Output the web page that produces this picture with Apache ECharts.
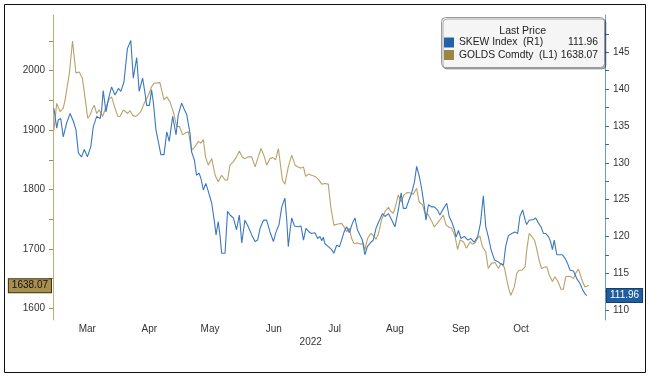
<!DOCTYPE html>
<html><head><meta charset="utf-8">
<script src="https://cdn.jsdelivr.net/npm/echarts@6/dist/echarts.min.js"></script>
<style>html,body{margin:0;padding:0;background:#fff}#c{width:650px;height:380px}</style>
</head><body><div id="c"></div>
<script>
// x unit = trading-day index from the first plotted session (late Feb 2022)
const monthLabels = ['Mar','Apr','May','Jun','Jul','Aug','Sep','Oct'];
const monthLabelAt = [11.06,31.06,50.65,71.19,90.81,110.32,131.61,150.97];
const yearLabel = '2022';
const goldTicks = [1600,1650,1700,1750,1800,1850,1900,1950,2000,2050];
const goldLabels = [1600,1700,1800,1900,2000];
const skewTicks = [110,112.5,115,117.5,120,122.5,125,127.5,130,132.5,135,137.5,140,142.5,145,147.5];
const skewLabels = [110,115,120,125,130,135,140,145];

const goldDays = [0.3,1.2,2.3,3.3,3.9,5.3,6.3,7.4,8.5,9.5,10.3,11.2,11.9,12.8,13.3,14.1,14.9,16.0,17.1,18.2,18.9,20.0,20.9,21.6,22.7,23.2,24.1,24.8,25.7,26.5,27.3,28.3,29.4,30.8,31.8,32.6,33.2,34.5,35.8,36.7,37.7,38.8,39.9,40.8,41.8,42.9,43.7,44.7,45.8,46.9,47.7,48.5,49.2,50.1,51.2,52.3,53.3,54.4,55.5,56.3,57.1,58.2,59.2,60.1,61.1,61.9,63.0,64.1,65.2,66.2,67.1,68.2,68.9,70.0,70.9,71.8,72.7,73.2,74.0,74.8,75.9,77.0,78.1,79.1,80.0,80.8,81.5,82.4,83.4,84.5,85.6,86.7,87.7,88.8,89.6,90.6,92.0,93.1,93.9,94.7,95.6,96.3,97.1,98.2,99.3,100.1,100.6,101.5,102.5,103.3,104.2,105.0,106.0,107.1,108.2,109.0,109.8,110.6,111.4,112.3,113.2,114.3,115.4,116.2,117.3,118.1,119.2,120.0,121.1,122.2,123.0,123.8,124.8,125.9,126.8,127.9,128.6,129.7,130.5,131.3,132.4,133.4,134.5,135.3,136.1,137.0,137.7,138.5,139.6,140.4,141.5,142.6,143.7,144.5,145.6,146.3,147.1,147.7,148.8,149.6,150.3,151.2,152.3,152.8,153.6,154.4,155.3,156.0,156.8,157.6,158.5,159.3,160.1,161.1,161.9,162.8,163.9,164.6,165.4,166.2,167.1,167.9,168.6,169.5,170.0,170.8,171.6,172.5,172.9];
const goldPrice = [1900,1945,1931,1937,1951,1996,2050,1996,1998,1987,1956,1920,1925,1937,1942,1928,1934,1923,1939,1953,1956,1937,1923,1923,1934,1937,1928,1933,1925,1923,1925,1931,1945,1959,1973,1979,1976,1980,1951,1956,1948,1931,1906,1906,1892,1896,1897,1866,1872,1881,1878,1884,1855,1841,1852,1824,1813,1824,1816,1816,1841,1847,1855,1865,1854,1852,1855,1855,1838,1855,1869,1855,1841,1852,1854,1850,1869,1870,1816,1809,1838,1858,1841,1838,1836,1838,1822,1826,1824,1822,1817,1809,1810,1809,1771,1740,1742,1743,1737,1729,1735,1718,1709,1710,1708,1710,1698,1718,1726,1723,1716,1726,1749,1763,1770,1763,1760,1774,1791,1779,1791,1795,1794,1792,1802,1779,1774,1760,1757,1746,1737,1742,1749,1757,1740,1736,1735,1721,1699,1715,1712,1701,1712,1708,1710,1718,1722,1704,1695,1667,1676,1677,1667,1676,1669,1650,1631,1622,1636,1659,1664,1664,1670,1698,1726,1721,1715,1701,1681,1667,1669,1670,1656,1645,1653,1646,1632,1632,1653,1654,1653,1650,1659,1666,1664,1645,1636,1638,1638.07];

const skewDays = [0.3,1.2,1.7,2.5,3.3,4.4,5.5,6.6,7.4,8.2,9.2,10.1,11.1,12.2,13.0,14.1,15.2,15.7,16.2,17.1,17.8,18.9,20.0,21.1,21.9,22.9,24.0,25.1,25.9,27.0,27.8,28.9,29.7,30.2,31.1,31.8,32.4,33.2,34.1,34.8,35.8,36.7,37.5,38.6,39.7,40.4,41.5,42.4,43.1,43.7,44.2,44.7,45.6,46.3,47.1,47.7,48.5,49.3,50.1,51.2,52.0,52.6,53.3,53.9,54.4,55.5,56.3,57.1,58.2,59.2,60.1,60.9,61.9,63.0,64.1,65.2,66.0,66.8,67.9,68.9,70.0,71.1,71.8,72.9,73.8,74.8,75.4,75.9,76.5,77.0,77.9,79.1,80.0,80.8,81.6,82.6,83.4,84.5,85.4,86.1,86.7,87.2,87.7,88.8,89.9,90.6,91.5,92.4,93.1,93.9,94.7,95.6,96.6,97.4,98.2,99.0,99.8,100.6,101.4,102.3,103.3,104.2,105.3,106.3,107.1,108.2,109.3,110.3,111.4,112.3,113.0,113.9,114.8,115.7,116.6,117.3,118.2,118.9,119.8,120.3,121.1,122.2,123.0,124.0,124.8,125.7,127.0,127.8,128.6,129.5,130.0,130.8,131.6,132.7,133.8,134.8,135.9,137.0,137.9,138.8,139.6,140.4,141.3,142.4,143.4,144.3,145.3,146.0,146.9,148.0,149.0,149.9,150.6,151.5,152.3,152.8,153.6,154.2,155.0,155.7,156.6,157.4,158.2,158.9,159.8,160.5,161.1,161.7,162.5,163.6,164.3,165.2,166.0,166.8,167.9,168.9,170.0,170.9,171.6,172.2];
const skewLevel = [137.4,134.7,135.8,136.0,133.5,135.4,136.7,135.6,134.5,131.3,130.8,131.8,130.8,132.2,134.9,136.3,136.0,137.2,139.8,136.9,138.5,140.3,139.2,140.1,139.7,141.0,145.5,146.6,141.5,144.3,139.7,141.5,139.4,137.8,137.8,139.9,138.1,134.5,132.6,131.1,131.1,134.2,132.9,136.3,133.8,136.5,138.1,137.2,136.6,136.7,134.0,131.5,130.4,128.3,128.6,127.9,126.3,127.2,126.1,124.5,122.2,120.2,122.0,120.0,117.7,117.7,123.4,122.9,122.5,120.9,122.9,119.1,122.2,121.3,120.2,119.3,119.5,121.1,122.2,122.2,120.6,119.3,120.4,121.6,124.0,125.2,122.2,118.6,120.9,122.5,121.4,121.3,121.4,119.5,121.1,120.6,120.4,120.5,119.7,120.0,119.4,119.9,119.0,118.6,118.2,117.7,118.8,118.6,119.5,120.6,121.3,120.5,121.8,122.5,120.9,120.2,119.5,117.5,118.6,119.1,119.5,121.1,122.2,123.1,122.7,123.1,122.2,121.3,123.6,125.9,123.8,123.8,124.9,125.9,127.4,129.5,128.1,126.5,124.0,122.2,124.3,124.0,124.0,123.6,122.9,123.6,124.5,122.7,122.0,120.9,119.9,120.8,119.7,120.0,119.5,119.7,119.2,120.0,121.8,125.5,121.3,120.0,118.2,116.8,116.6,116.3,116.1,118.6,120.1,120.4,120.6,120.4,122.7,123.6,122.2,121.6,122.2,122.0,122.3,122.5,121.8,121.3,120.4,120.4,120.0,119.3,118.2,119.5,117.5,117.5,117.5,117.0,116.3,115.4,115.3,114.3,113.6,112.7,112.2,111.96];

const FONT = "'Liberation Sans', Arial, sans-serif";
const zip = (xs, ys) => xs.map((x, i) => [x, ys[i]]);
const lastGold = goldPrice[goldPrice.length - 1];
const lastSkew = skewLevel[skewLevel.length - 1];
const plain = v => String(v);

const chart = echarts.init(document.getElementById('c'), null, {renderer: 'canvas'});
chart.setOption({
  animation: false,
  textStyle: {fontFamily: FONT},
  grid: {left: 53, right: 45, top: 15, bottom: 60},
  xAxis: {
    type: 'value', min: 0, max: 178.06,
    axisLine: {show: false}, axisTick: {show: false}, splitLine: {show: false},
    axisLabel: {
      customValues: monthLabelAt,
      formatter: v => {
        let best = 0;
        monthLabelAt.forEach((m, i) => { if (Math.abs(m - v) < Math.abs(monthLabelAt[best] - v)) best = i; });
        return monthLabels[best];
      },
      color: '#333', fontSize: 10, margin: 4, fontFamily: FONT
    }
  },
  yAxis: [
    {
      type: 'value', position: 'left', min: 1580.3, max: 2093.8,
      axisLine: {show: true, lineStyle: {color: '#c4ad73', width: 1}},
      axisTick: {show: true, customValues: goldTicks, length: 4, lineStyle: {color: '#a48c4c'}},
      axisLabel: {customValues: goldLabels, formatter: plain, color: '#333', fontSize: 10, margin: 8, fontFamily: FONT},
      splitLine: {show: false}
    },
    {
      type: 'value', position: 'right', min: 108.64, max: 150.07,
      axisLine: {show: true, lineStyle: {color: '#6a9ad2', width: 1}},
      axisTick: {show: true, customValues: skewTicks, length: 4, lineStyle: {color: '#2f6db3'}},
      axisLabel: {customValues: skewLabels, formatter: plain, color: '#333', fontSize: 10, margin: 8, fontFamily: FONT},
      splitLine: {show: false}
    }
  ],
  legend: {
    orient: 'vertical', left: 444, top: 37, padding: 0, z: 6,
    itemWidth: 10, itemHeight: 10, itemGap: 1.5, icon: 'rect',
    selectedMode: false,
    data: [
      {name: 'SKEW Index', itemStyle: {color: '#2163ab'}},
      {name: 'GOLDS Comdty', itemStyle: {color: '#9d8545'}}
    ],
    formatter: name => name === 'SKEW Index'
      ? '{a|SKEW Index  (R1)}{b|' + lastSkew.toFixed(2) + '}'
      : '{a|GOLDS Comdty  (L1)}{b|' + lastGold.toFixed(2) + '}',
    textStyle: {
      fontFamily: FONT, fontSize: 10.3, color: '#222', lineHeight: 11,
      rich: {
        a: {width: 104, fontSize: 10.3, color: '#222', fontFamily: FONT},
        b: {width: 35, align: 'right', fontSize: 10.3, color: '#222', fontFamily: FONT}
      }
    }
  },
  graphic: [
    {type: 'rect', z: -1, silent: true, shape: {x: 4.5, y: 4.5, width: 641, height: 368},
     style: {fill: 'none', stroke: '#111', lineWidth: 1}},
    {type: 'rect', z: 1, silent: true, shape: {x: 441.5, y: 17.5, width: 163, height: 50, r: 4},
     style: {fill: '#f5f5f5', stroke: '#9a9a9a', lineWidth: 1, shadowBlur: 0, shadowOffsetX: 1.5, shadowOffsetY: 1.5, shadowColor: 'rgba(0,0,0,0.3)'}},
    {type: 'text', z: 10, silent: true, x: 522.7, y: 30.7,
     style: {text: 'Last Price', align: 'center', verticalAlign: 'middle', font: '10.5px ' + FONT, fill: '#222'}},
    {type: 'text', z: 10, silent: true, x: 310.7, y: 342.3,
     style: {text: yearLabel, align: 'center', verticalAlign: 'middle', font: '10px ' + FONT, fill: '#333'}}
  ],
  series: [
    {
      name: 'GOLDS Comdty', type: 'line', yAxisIndex: 0, data: zip(goldDays, goldPrice),
      showSymbol: false, symbol: 'none', color: '#b89f66', clip: false,
      lineStyle: {width: 1.1, color: '#b9a16a'}, emphasis: {disabled: true},
      markLine: {
        silent: true, symbol: 'none', animation: false,
        lineStyle: {color: 'rgba(0,0,0,0)', width: 1, opacity: 1},
        data: [{yAxis: lastGold}],
        label: {show: true, position: 'start', formatter: lastGold.toFixed(2), distance: 2, opacity: 1,
          backgroundColor: '#a88f4d', borderColor: '#3d3215', borderWidth: 1,
          color: '#111', padding: [2, 3, 1, 3], fontSize: 10, fontFamily: FONT}
      }
    },
    {
      name: 'SKEW Index', type: 'line', yAxisIndex: 1, data: zip(skewDays, skewLevel),
      showSymbol: false, symbol: 'none', color: '#3a78c0', clip: false,
      lineStyle: {width: 1.1, color: '#3a78c0'}, emphasis: {disabled: true},
      markLine: {
        silent: true, symbol: 'none', animation: false,
        lineStyle: {color: 'rgba(0,0,0,0)', width: 1, opacity: 1},
        data: [{yAxis: lastSkew}],
        label: {show: true, position: 'end', formatter: lastSkew.toFixed(2), distance: 2, opacity: 1,
          backgroundColor: '#1f5e9e', borderColor: '#173f6b', borderWidth: 1,
          color: '#fff', padding: [2, 3, 1, 3], fontSize: 10, fontFamily: FONT}
      }
    }
  ]
});
</script>
</body></html>
